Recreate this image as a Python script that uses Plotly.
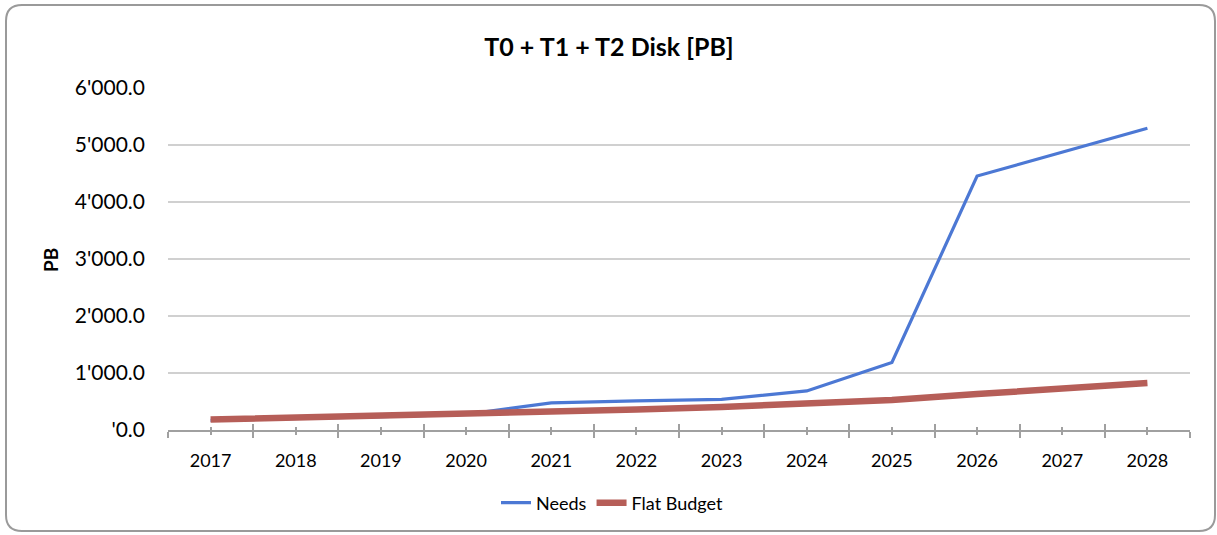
import plotly.graph_objects as go

years = ["2017", "2018", "2019", "2020", "2021", "2022", "2023", "2024", "2025", "2026", "2027", "2028"]
needs = [170, 200, 235, 275, 475, 510, 538, 685, 1185, 4455, 4875, 5295]
flat_budget = [184, 215, 250, 288, 318, 360, 403, 475, 528, 630, 728, 825]
y_ticks = [0, 1000, 2000, 3000, 4000, 5000, 6000]
y_tick_text = ["'0.0", "1'000.0", "2'000.0", "3'000.0", "4'000.0", "5'000.0", "6'000.0"]

W, H = 1217, 535
L, R, T, B = 168, 27, 88, 105
pw, ph = W - L - R, H - T - B

def px(x):
    return (x - L) / pw

def py(y):
    return (H - B - y) / ph

FONT = "Lato, Calibri, Carlito, sans-serif"
xs = list(range(len(years)))

fig = go.Figure()
fig.add_trace(go.Scatter(x=xs, y=needs, name="Needs", mode="lines",
                         line=dict(color="#4C78D4", width=3.2)))
fig.add_trace(go.Scatter(x=xs, y=flat_budget, name="Flat Budget", mode="lines",
                         line=dict(color="#B65E58", width=6.5)))

bounds = [i - 0.5 for i in range(len(years) + 1)]
fig.update_layout(
    width=W, height=H,
    margin=dict(l=L, r=R, t=T, b=B),
    paper_bgcolor="white", plot_bgcolor="white",
    font=dict(family=FONT, color="black"),
    title=dict(text="<b>T0 + T1 + T2 Disk [PB]</b>", xref="container", x=609 / W, xanchor="center",
               yref="container", y=1 - 47 / H, yanchor="middle", font=dict(size=25, family=FONT)),
    xaxis=dict(range=[-0.5, len(years) - 0.5], tickmode="array", tickvals=xs, ticktext=years,
               ticks="outside", ticklen=3, tickwidth=1.5, tickcolor="#A0A0A0",
               minor=dict(tickmode="array", tickvals=bounds, ticks="outside", ticklen=6,
                          tickwidth=1.5, tickcolor="#A0A0A0", showgrid=False),
               showline=True, linecolor="#A0A0A0", linewidth=1.5, showgrid=False,
               zeroline=False, tickfont=dict(size=18, family=FONT), ticklabelstandoff=11),
    xaxis2=dict(overlaying="x", matches="x", anchor="y", side="bottom",
                range=[-0.5, len(years) - 0.5], tickmode="array", tickvals=xs,
                showticklabels=False, ticks="inside", ticklen=3, tickwidth=1.5, tickcolor="#A0A0A0",
                minor=dict(tickmode="array", tickvals=bounds, ticks="inside", ticklen=6,
                           tickwidth=1.5, tickcolor="#A0A0A0", showgrid=False),
                showline=False, showgrid=False, zeroline=False),
    yaxis=dict(range=[0, 6000], tickmode="array", tickvals=y_ticks, ticktext=y_tick_text,
               showgrid=True, gridcolor="#D0D0D0", gridwidth=1.5, zeroline=False,
               showline=False, ticks="", tickfont=dict(size=21, family=FONT),
               ticklabelstandoff=22),
    legend=dict(orientation="h", x=px(612), xanchor="center", y=py(503), yanchor="middle",
                font=dict(size=18, family=FONT), bgcolor="rgba(0,0,0,0)", itemwidth=30),
    showlegend=True,
)
# helper trace on xaxis2 so its ticks are drawn
fig.add_trace(go.Scatter(x=[xs[0]], y=[None], xaxis="x2", showlegend=False, hoverinfo="skip"))

fig.add_annotation(text="<b>PB</b>", textangle=-90, xref="paper", yref="paper",
                   x=px(50), y=py(260), xanchor="center", yanchor="middle",
                   showarrow=False, font=dict(size=19, family=FONT))

# rounded border
x0, y0, x1, y1, r = px(6), py(5), px(1215), py(531), 16
rx, ry = r / pw, r / ph
path = (f"M {x0 + rx} {y0} L {x1 - rx} {y0} Q {x1} {y0} {x1} {y0 - ry} "
        f"L {x1} {y1 + ry} Q {x1} {y1} {x1 - rx} {y1} L {x0 + rx} {y1} "
        f"Q {x0} {y1} {x0} {y1 + ry} L {x0} {y0 - ry} Q {x0} {y0} {x0 + rx} {y0} Z")
fig.add_shape(type="path", path=path, xref="paper", yref="paper",
              line=dict(color="#9A9A9A", width=2), layer="below")

fig.write_html("out.html", config={"displayModeBar": False},
               post_script="document.body.style.margin='0';")
